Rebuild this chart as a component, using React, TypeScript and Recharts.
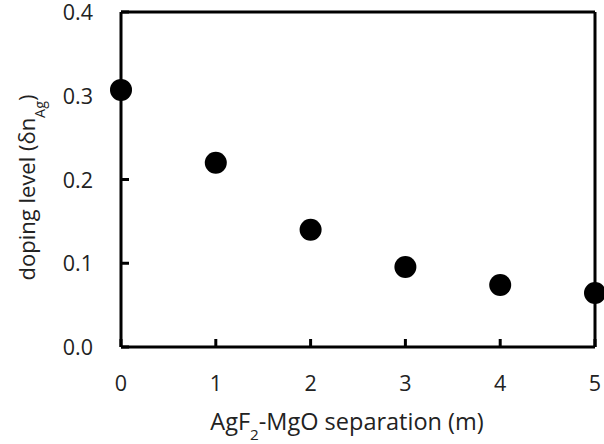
import React from 'react';
import { ScatterChart, Scatter, XAxis, YAxis, ReferenceLine } from 'recharts';

const separations = [0, 1, 2, 3, 4, 5];
const dopingLevels = [0.307, 0.220, 0.140, 0.0955, 0.074, 0.0645];
const xTicks = [0, 1, 2, 3, 4, 5];
const yTicks = [0, 0.1, 0.2, 0.3, 0.4];

const data = separations.map((s, i) => ({ x: s, y: dopingLevels[i] }));

const FONT = '"Open Sans", sans-serif';
const FS = 21.5;
const TFS = 22;
const XTFS = 23.5;

const XTick = (props: any) => {
  const { x, y, payload } = props;
  return (
    <g>
      <line x1={x} x2={x} y1={y} y2={y - 8} stroke="#000" strokeWidth={3} />
      <text x={x} y={y + 44} textAnchor="middle" fontFamily={FONT} fontSize={FS} fill="#222">
        {payload.value}
      </text>
    </g>
  );
};

const YTick = (props: any) => {
  const { x, y, payload } = props;
  return (
    <g>
      <line x1={x} x2={x + 8} y1={y} y2={y} stroke="#000" strokeWidth={3} />
      <text x={x - 28} y={y + 8} textAnchor="end" fontFamily={FONT} fontSize={FS} fill="#222">
        {Number(payload.value).toFixed(1)}
      </text>
    </g>
  );
};

const XTitle = (props: any) => {
  const vb = props.viewBox;
  const cx = vb.x + vb.width / 2 - 11;
  return (
    <text x={cx} y={vb.y + 83} textAnchor="middle" fontFamily={FONT} fontSize={XTFS} fill="#222">
      AgF<tspan baselineShift="sub" fontSize={XTFS * 0.65}>2</tspan>
      <tspan>-MgO separation (m)</tspan>
    </text>
  );
};

const YTitle = (props: any) => {
  const vb = props.viewBox;
  const cy = vb.y + vb.height / 2 + 8;
  const cx = 35;
  return (
    <text
      x={cx}
      y={cy}
      textAnchor="middle"
      fontFamily={FONT}
      fontSize={TFS}
      fill="#222"
      transform={`rotate(-90, ${cx}, ${cy})`}
    >
      doping level (δn<tspan baselineShift="sub" fontSize={TFS * 0.65}>Ag</tspan>
      <tspan>)</tspan>
    </text>
  );
};

export default function App() {
  return (
    <div style={{ position: 'absolute', left: 0, top: 0, background: '#fff' }}>
      <ScatterChart width={604} height={444} margin={{ top: 12, right: 9, bottom: 0, left: 0 }}>
        <XAxis
          type="number"
          dataKey="x"
          domain={[0, 5]}
          ticks={xTicks}
          interval={0}
          tickSize={0}
          tickMargin={0}
          tickLine={false}
          tick={<XTick />}
          height={97}
          axisLine={{ stroke: '#000', strokeWidth: 3 }}
          label={<XTitle />}
        />
        <YAxis
          type="number"
          dataKey="y"
          domain={[0, 0.4]}
          ticks={yTicks}
          interval={0}
          tickSize={0}
          tickMargin={0}
          tickLine={false}
          tick={<YTick />}
          width={121}
          axisLine={{ stroke: '#000', strokeWidth: 3 }}
          label={<YTitle />}
        />
        <ReferenceLine y={0.4} stroke="#000" strokeWidth={3} />
        <ReferenceLine x={5} stroke="#000" strokeWidth={3} />
        <Scatter
          data={data}
          fill="#000"
          isAnimationActive={false}
          shape={(p: any) => <circle cx={p.cx} cy={p.cy} r={11} fill="#000" />}
        />
      </ScatterChart>
    </div>
  );
}
